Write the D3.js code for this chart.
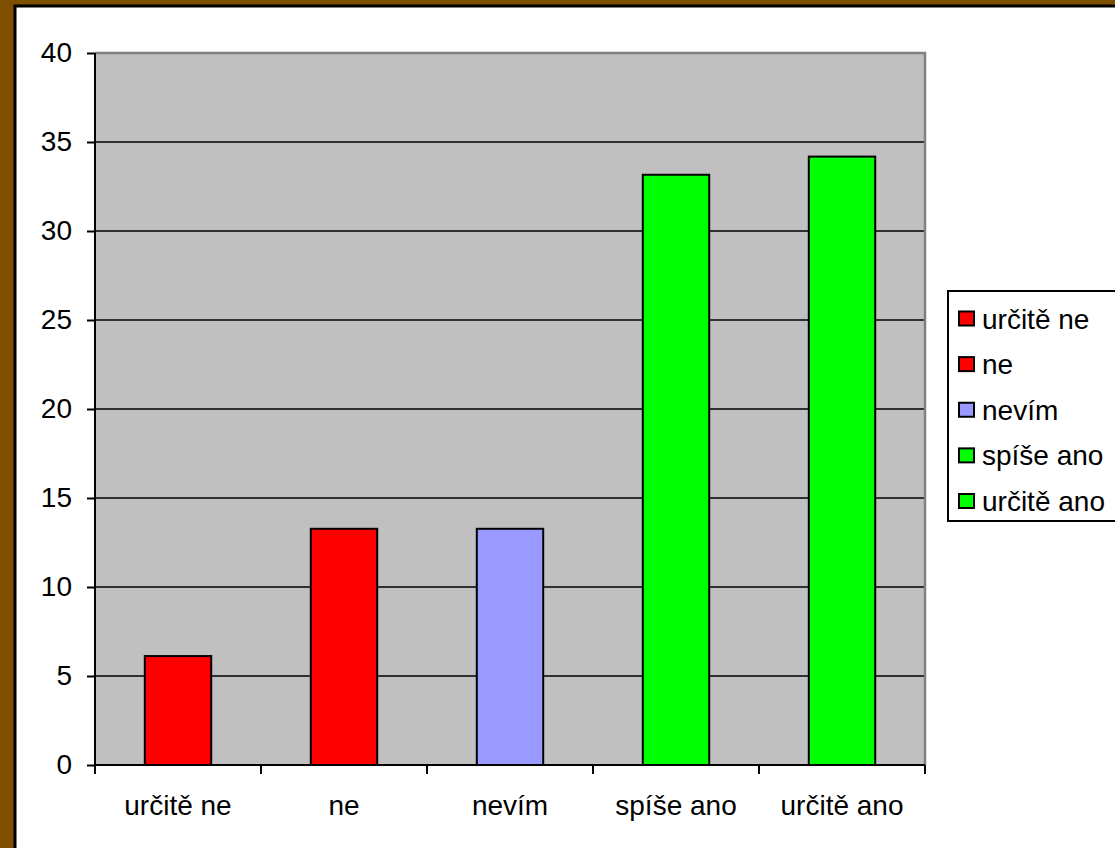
<!DOCTYPE html>
<html><head><meta charset="utf-8">
<script src="https://cdn.jsdelivr.net/npm/d3@7"></script>
<style>body{margin:0;background:#7f4f00;}svg{display:block;}</style>
</head><body>
<script>
const categories = ["určitě ne", "ne", "nevím", "spíše ano", "určitě ano"];
const values = [6.12, 13.27, 13.27, 33.16, 34.18];
const colors = ["#ff0000", "#ff0000", "#9999ff", "#00ff00", "#00ff00"];
const yTicks = [0, 5, 10, 15, 20, 25, 30, 35, 40];

const W = 1115, H = 848;
const svg = d3.select("body").append("svg").attr("width", W).attr("height", H);
const font = "'Liberation Sans', Arial, sans-serif";
const fs = 28;

// frame
svg.append("rect").attr("x", 0).attr("y", 0).attr("width", W).attr("height", H).attr("fill", "#7f4f00");
svg.append("rect").attr("x", 15).attr("y", 6).attr("width", W).attr("height", H)
  .attr("fill", "#fff").attr("stroke", "#000").attr("stroke-width", 3);

const L = 95, T = 53, R = 925, B = 765;
const x = d3.scaleBand().domain(categories).range([L, R]).paddingInner(0.6).paddingOuter(0.3);
const xb = d3.scaleBand().domain(categories).range([L, R]);
const y = d3.scaleLinear().domain([0, 40]).range([B, T]);

svg.append("rect").attr("x", L).attr("y", T).attr("width", R - L).attr("height", B - T).attr("fill", "#c0c0c0");

// gridlines
svg.append("g").selectAll("line").data(yTicks.filter(d => d > 0 && d < 40)).join("line")
  .attr("x1", L).attr("x2", R).attr("y1", d => y(d)).attr("y2", d => y(d))
  .attr("stroke", "#000").attr("stroke-width", 1.5);

// top/right border
svg.append("path").attr("d", `M${L},${T}H${R}V${B}`).attr("fill", "none").attr("stroke", "#808080").attr("stroke-width", 2.5);

// bars
svg.append("g").selectAll("rect").data(values).join("rect")
  .attr("x", (d, i) => x(categories[i])).attr("width", x.bandwidth())
  .attr("y", d => y(d)).attr("height", d => B - y(d))
  .attr("fill", (d, i) => colors[i]).attr("stroke", "#000").attr("stroke-width", 2);

// y axis
const yAxis = svg.append("g").attr("transform", `translate(${L},0)`)
  .call(d3.axisLeft(y).tickValues(yTicks).tickSize(8).tickPadding(15));
yAxis.select(".domain").attr("stroke", "#000").attr("stroke-width", 2).attr("d", `M0,${T}V${B}`);
yAxis.selectAll(".tick line").attr("stroke", "#000").attr("stroke-width", 2);
yAxis.selectAll("text").attr("font-family", font).attr("font-size", fs).attr("fill", "#000");

// x axis
svg.append("line").attr("x1", L).attr("x2", R).attr("y1", B).attr("y2", B).attr("stroke", "#000").attr("stroke-width", 2);
const bounds = categories.map(c => xb(c)).concat([R]);
svg.append("g").selectAll("line").data(bounds).join("line")
  .attr("x1", d => d).attr("x2", d => d).attr("y1", B).attr("y2", B + 9)
  .attr("stroke", "#000").attr("stroke-width", 2);
svg.append("g").selectAll("text").data(categories).join("text")
  .attr("x", d => xb(d) + xb.bandwidth() / 2).attr("y", 815)
  .attr("text-anchor", "middle").attr("font-family", font).attr("font-size", fs).attr("fill", "#000")
  .text(d => d);

// legend
const lg = svg.append("g");
lg.append("rect").attr("x", 948).attr("y", 291).attr("width", 180).attr("height", 230)
  .attr("fill", "#fff").attr("stroke", "#000").attr("stroke-width", 2);
const ly = d3.scalePoint().domain(categories).range([318.5, 501]);
lg.selectAll("rect.sw").data(categories).join("rect").attr("class", "sw")
  .attr("x", 959).attr("y", d => ly(d) - 7).attr("width", 15).attr("height", 14)
  .attr("fill", (d, i) => colors[i]).attr("stroke", "#000").attr("stroke-width", 2);
lg.selectAll("text").data(categories).join("text")
  .attr("x", 982).attr("y", d => ly(d) + 10)
  .attr("font-family", font).attr("font-size", fs).attr("fill", "#000").text(d => d);
</script>
</body></html>
